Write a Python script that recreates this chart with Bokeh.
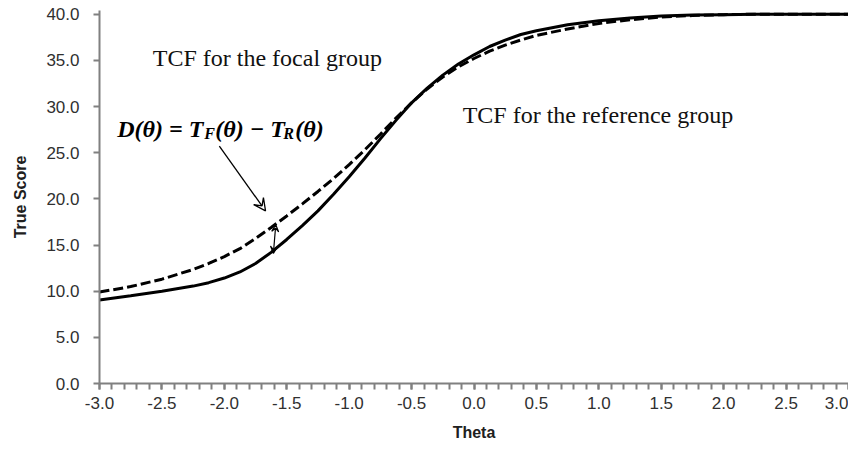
from bokeh.plotting import figure
from bokeh.models import FixedTicker, PrintfTickFormatter, Label, Arrow, VeeHead, Range1d
from bokeh.embed import file_html
from bokeh.resources import INLINE

# ---- data ----
theta = [-3.0, -2.75, -2.5, -2.25, -2.125, -2.0, -1.875, -1.75, -1.625, -1.5, -1.375, -1.25,
         -1.125, -1.0, -0.875, -0.75, -0.625, -0.5, -0.375, -0.25, -0.125, 0.0, 0.125, 0.25,
         0.375, 0.5, 0.75, 1.0, 1.25, 1.5, 1.75, 2.0, 2.25, 2.5, 2.75, 3.0]
tcf_reference = [9.05, 9.5, 10.0, 10.55, 10.92, 11.42, 12.08, 13.0, 14.2, 15.6, 17.1, 18.7,
                 20.5, 22.4, 24.4, 26.5, 28.5, 30.4, 32.0, 33.4, 34.6, 35.6, 36.5, 37.2,
                 37.8, 38.2, 38.85, 39.3, 39.6, 39.8, 39.9, 39.95, 40.0, 40.0, 40.0, 40.0]
tcf_focal = [9.9, 10.5, 11.3, 12.35, 13.0, 13.75, 14.6, 15.7, 16.9, 18.15, 19.45, 20.8,
             22.2, 23.7, 25.3, 27.0, 28.75, 30.4, 31.9, 33.2, 34.3, 35.2, 36.0, 36.65,
             37.2, 37.7, 38.4, 39.0, 39.4, 39.7, 39.85, 39.95, 40.0, 40.0, 40.0, 40.0]

x_ticks = [-3.0, -2.5, -2.0, -1.5, -1.0, -0.5, 0.0, 0.5, 1.0, 1.5, 2.0, 2.5, 3.0]
x_minor_ticks = [round(-3.0 + 0.1 * i, 1) for i in range(61)]
y_ticks = [0, 5, 10, 15, 20, 25, 30, 35, 40]

label_focal = "TCF for the focal group"
label_reference = "TCF for the reference group"

# ---- figure ----
p = figure(width=848, height=447, x_range=Range1d(-3.0, 3.0), y_range=Range1d(0, 40.4),
           output_backend="svg", toolbar_location=None,
           min_border_left=99, min_border_right=0, min_border_top=10, min_border_bottom=64)
p.outline_line_color = None
p.grid.visible = False
p.background_fill_color = "white"
p.border_fill_color = "white"

axis_color = "#808080"
for ax in (p.xaxis[0], p.yaxis[0]):
    ax.axis_line_color = axis_color
    ax.axis_line_width = 2
    ax.major_tick_line_color = axis_color
    ax.major_tick_line_width = 2
    ax.minor_tick_line_color = axis_color
    ax.minor_tick_line_width = 2
    ax.major_tick_in = 0
    ax.major_tick_out = 6
    ax.minor_tick_in = 0
    ax.major_label_text_font = "Liberation Sans"
    ax.major_label_text_font_size = "17px"
    ax.major_label_text_color = "#303030"
    ax.axis_label_text_font = "Liberation Sans"
    ax.axis_label_text_font_style = "bold"
    ax.axis_label_text_font_size = "16px"
    ax.axis_label_text_color = "#202020"
    ax.formatter = PrintfTickFormatter(format="%.1f")

p.xaxis[0].ticker = FixedTicker(ticks=x_ticks, minor_ticks=x_minor_ticks)
p.xaxis[0].minor_tick_out = 6
p.xaxis[0].major_label_standoff = 7
p.xaxis[0].axis_label = "Theta"
p.xaxis[0].axis_label_standoff = 12

p.yaxis[0].ticker = FixedTicker(ticks=y_ticks)
p.yaxis[0].minor_tick_out = 0
p.yaxis[0].major_label_standoff = 14
p.yaxis[0].axis_label = "True Score"
p.yaxis[0].axis_label_standoff = 14

# curves
p.line(theta, tcf_reference, line_color="black", line_width=3)
p.line(theta, tcf_focal, line_color="black", line_width=3, line_dash="10 4")

# curve labels
serif = "Liberation Serif"
p.add_layout(Label(x=-2.573, y=35.3, text=label_focal, text_font=serif,
                   text_font_size="24px", text_color="#111111", text_baseline="alphabetic"))
p.add_layout(Label(x=-0.091, y=29.1, text=label_reference, text_font=serif,
                   text_font_size="24px", text_color="#111111", text_baseline="alphabetic"))

# formula D(θ) = T_F(θ) − T_R(θ)
fx, fy = -2.858, 27.6
pieces = [("D(θ) = T", 0, 0, "24px"), ("F", 87, -5, "16px"), ("(θ) − T", 98, 0, "24px"),
          ("R", 166, -5, "16px"), ("(θ)", 178, 0, "24px")]
for txt, dx, dy, fs in pieces:
    p.add_layout(Label(x=fx, y=fy, x_offset=dx, y_offset=dy, text=txt, text_font=serif,
                       text_font_style="bold italic", text_font_size=fs, text_color="black",
                       text_baseline="alphabetic"))

# pointer arrow
p.add_layout(Arrow(end=VeeHead(size=12, line_width=1.3, line_color="black", fill_color=None),
                   x_start=-2.04, y_start=25.7, x_end=-1.67, y_end=18.7,
                   line_color="black", line_width=1.3))
# double arrow between curves
p.add_layout(Arrow(start=VeeHead(size=7, line_width=1.2, line_color="black", fill_color=None),
                   end=VeeHead(size=7, line_width=1.2, line_color="black", fill_color=None),
                   x_start=-1.607, y_start=14.1, x_end=-1.588, y_end=17.2,
                   line_color="black", line_width=1.2))

open("out.html", "w").write(file_html(p, INLINE))
